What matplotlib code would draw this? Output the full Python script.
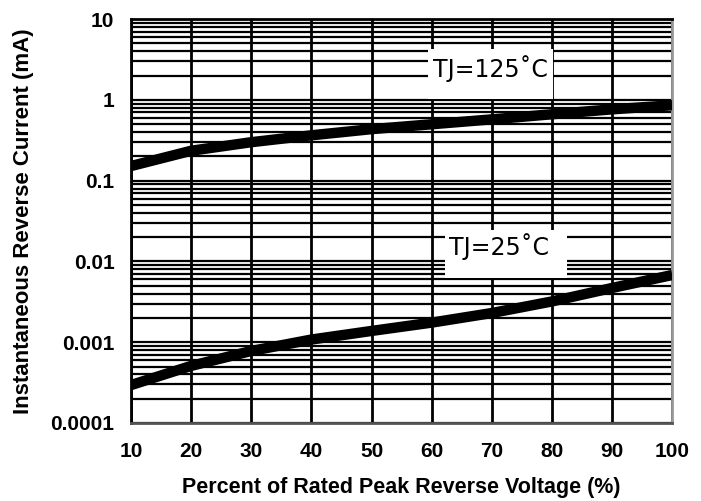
import numpy as np
import matplotlib.pyplot as plt
from matplotlib.patches import Rectangle
from matplotlib.ticker import LogLocator, FixedLocator, NullFormatter

# Data
voltage_pct = [10, 20, 30, 40, 50, 60, 70, 80, 90, 100]
current_125 = [0.152, 0.235, 0.30, 0.365, 0.435, 0.50, 0.575, 0.665, 0.765, 0.86]
current_25 = [0.000295, 0.00051, 0.00078, 0.00108, 0.00138, 0.00175, 0.0023, 0.0032, 0.0047, 0.0068]

y_ticks = [0.0001, 0.001, 0.01, 0.1, 1, 10]
y_tick_labels = ["0.0001", "0.001", "0.01", "0.1", "1", "10"]
x_ticks = [10, 20, 30, 40, 50, 60, 70, 80, 90, 100]

fig = plt.figure(figsize=(7.01, 5.01), dpi=100)
ax = fig.add_axes([0.187, 0.1557, 0.772, 0.806])

ax.set_yscale("log")
ax.set_xlim(10, 100)
ax.set_ylim(0.0001, 10)

# grid: every minor decade line and every 10 % in x
ax.yaxis.set_major_locator(FixedLocator(y_ticks))
ax.yaxis.set_minor_locator(LogLocator(base=10, subs=np.arange(2, 10)))
ax.yaxis.set_minor_formatter(NullFormatter())
ax.set_yticklabels(y_tick_labels)
ax.set_xticks(x_ticks)
ax.grid(True, which="both", axis="y", color="black", lw=1.6)
ax.grid(True, which="major", axis="x", color="black", lw=2.0)
ax.tick_params(which="both", length=0)
ax.tick_params(axis="y", labelsize=15, pad=12)
ax.tick_params(axis="x", labelsize=15, pad=14)
for lbl in ax.get_xticklabels() + ax.get_yticklabels():
    lbl.set_fontweight("bold")
    lbl.set_family("Liberation Sans")

ax.spines["left"].set_linewidth(2)
ax.spines["top"].set_linewidth(2)
ax.spines["bottom"].set_color("#555555")
ax.spines["bottom"].set_linewidth(2)
ax.spines["right"].set_color("#999999")
ax.spines["right"].set_linewidth(2)

# curves
ax.plot(voltage_pct, current_125, color="black", lw=7.5, solid_capstyle="butt",
        solid_joinstyle="round", zorder=3)
ax.plot(voltage_pct, current_25, color="black", lw=7.5, solid_capstyle="butt",
        solid_joinstyle="round", zorder=3)

# labels with white boxes
ax.add_patch(Rectangle((0.549, 0.802), 0.231, 0.124, transform=ax.transAxes,
                       facecolor="white", edgecolor="none", zorder=4))
ax.add_patch(Rectangle((0.580, 0.359), 0.226, 0.119, transform=ax.transAxes,
                       facecolor="white", edgecolor="none", zorder=4))
ax.text(0.664, 0.877, "TJ=125˚C", transform=ax.transAxes, fontsize=17,
        family="DejaVu Sans", ha="center", va="center", zorder=5)
ax.text(0.680, 0.437, "TJ=25˚C", transform=ax.transAxes, fontsize=17,
        family="DejaVu Sans", ha="center", va="center", zorder=5)

ax.set_xlabel("Percent of Rated Peak Reverse Voltage (%)", fontsize=15.5,
              fontweight="bold", family="Liberation Sans", labelpad=11)
ax.set_ylabel("Instantaneous Reverse Current (mA)", fontsize=16,
              fontweight="bold", family="Liberation Sans", labelpad=12)

fig.savefig("out.png", dpi=100)
